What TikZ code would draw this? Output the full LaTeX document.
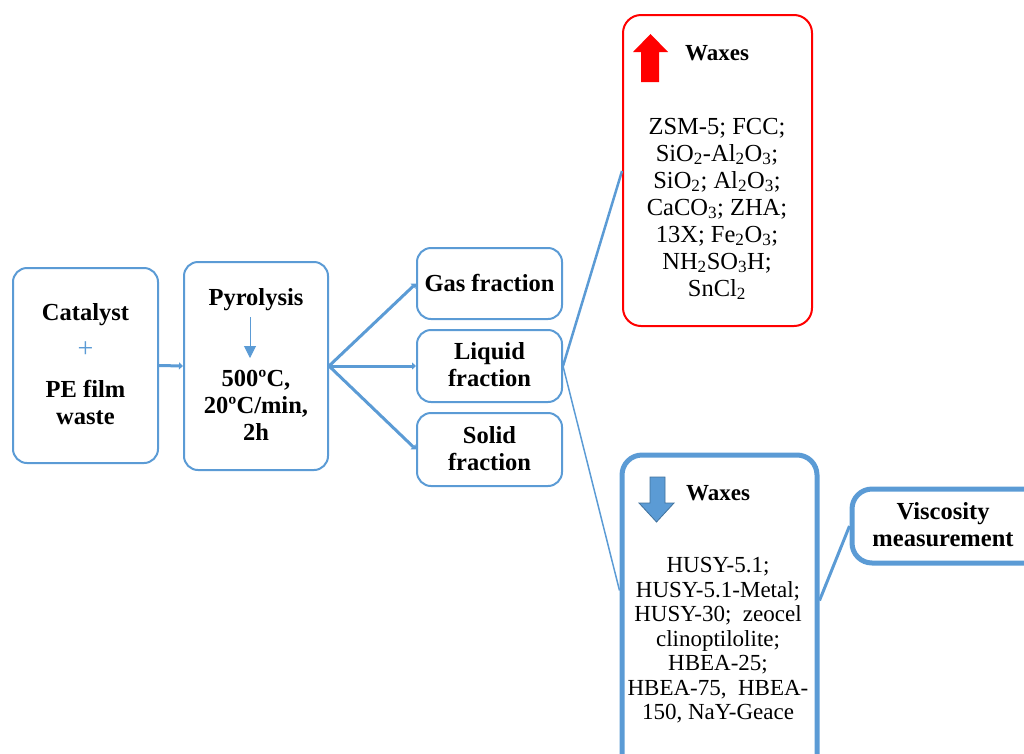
\documentclass[tikz,border=0pt]{standalone}
\usepackage{fontspec}
\setmainfont{Liberation Serif}
\usetikzlibrary{arrows.meta}
\definecolor{bl}{HTML}{5B9BD5}
\definecolor{bldark}{HTML}{41719C}
\definecolor{rd}{HTML}{FF0000}
\begin{document}
\begin{tikzpicture}[x=1pt,y=-1pt,
 box/.style={draw=bl,line width=2pt,rounded corners=14pt,inner sep=0pt},
 thickbox/.style={draw=bl,line width=5pt,rounded corners=20pt,inner sep=0pt},
 redbox/.style={draw=rd,line width=2pt,rounded corners=18pt,inner sep=0pt},
 bt/.style={font=\bfseries\fontsize{24.5}{27}\selectfont,align=center,inner sep=0pt},
 rt/.style={font=\fontsize{24.5}{27}\selectfont,align=center,inner sep=0pt},
 lt/.style={font=\fontsize{23}{24.5}\selectfont,align=center,inner sep=0pt},
 conn/.style={draw=bl,line width=3pt,-{Triangle[length=4pt,width=7pt]}},
 link/.style={draw=bl,line width=2pt},
]
\useasboundingbox (0,0) rectangle (1024,753);
\clip (0,0) rectangle (1024,753);
% boxes
\node[box,minimum width=145pt,minimum height=195pt] (cat) at (85.5,365.5) {};
\node[box,minimum width=144pt,minimum height=208pt] (pyr) at (256,366) {};
\node[box,minimum width=145pt,minimum height=71pt] (gas) at (489.5,283.5) {};
\node[box,minimum width=145pt,minimum height=72pt] (liq) at (489.5,366) {};
\node[box,minimum width=145pt,minimum height=73pt] (sol) at (489.5,449.5) {};
\node[redbox,minimum width=189pt,minimum height=311pt] (wu) at (717.5,170.5) {};
\node[thickbox,minimum width=195pt,minimum height=330pt] (wd) at (719.5,620) {};
\node[thickbox,minimum width=200pt,minimum height=74pt] (vis) at (952,526) {};
% texts
\node[bt] (tcat) at (85.5,315) {Catalyst};
\node[font=\fontsize{28}{30}\selectfont,inner sep=0pt,text=bl] (tplus) at (85.5,350) {+};
\node[bt] (tpe) at (85.5,402.5) {PE film\\waste};
\node[bt] (tpyr) at (256,300) {Pyrolysis};
\node[bt] (ttemp) at (256,405) {500ºC,\\20ºC/min,\\2h};
\node[bt] (tgas) at (489.5,283) {Gas fraction};
\node[bt] (tliq) at (489.5,365) {Liquid\\fraction};
\node[bt] (tsol) at (489.5,448.5) {Solid\\fraction};
\node[bt,font=\bfseries\fontsize{23}{27}\selectfont] (twu) at (717,53) {Waxes};
\node[rt] (tlu) at (717,209) {ZSM-5; FCC;\\SiO\textsubscript{2}-Al\textsubscript{2}O\textsubscript{3};\\SiO\textsubscript{2}; Al\textsubscript{2}O\textsubscript{3};\\CaCO\textsubscript{3}; ZHA;\\13X; Fe\textsubscript{2}O\textsubscript{3};\\NH\textsubscript{2}SO\textsubscript{3}H;\\SnCl\textsubscript{2}};
\node[bt,font=\bfseries\fontsize{23}{27}\selectfont] (twd) at (718,493) {Waxes};
\node[lt] (tld) at (718,640.5) {HUSY-5.1;\\HUSY-5.1-Metal;\\HUSY-30;\ \ zeocel\\clinoptilolite;\\HBEA-25;\\HBEA-75,\ \ HBEA-\\150, NaY-Geace};
\node[bt] (tvis) at (943,525) {Viscosity\\measurement};
% small pyrolysis arrow
\coordinate (pa1) at (250,317);
\coordinate (pa2) at (250,358);
\draw[draw=bl,line width=1pt,-{Triangle[length=12pt,width=12pt]}] (pa1) -- (pa2);
% wax arrows
\fill[rd] (641,82) -- (641,52) -- (633,52) -- (650.5,34) -- (668,52) -- (659,52) -- (659,82) -- cycle;
\filldraw[fill=bl,draw=bldark,line width=0.8pt] (650,477) -- (665,477) -- (665,503) -- (674,503) -- (656.5,522) -- (639,503) -- (650,503) -- cycle;
% connectors
\draw[conn] (cat.east) -- (pyr.west);
\draw[conn] (pyr.east) -- (gas.west);
\draw[conn] (pyr.east) -- (liq.west);
\draw[conn] (pyr.east) -- (sol.west);
\path (wu.north west) ++(0,157) coordinate (wuin);
\path (wd.north west) ++(0,138) coordinate (wdin);
\path (wd.north east) ++(0,148) coordinate (wdout);
\draw[link,line width=2.5pt] (liq.east) -- (wuin);
\draw[link,line width=1.5pt] (liq.east) -- (wdin);
\draw[link,line width=3pt] (wdout) -- (vis.west);
\end{tikzpicture}
\end{document}
